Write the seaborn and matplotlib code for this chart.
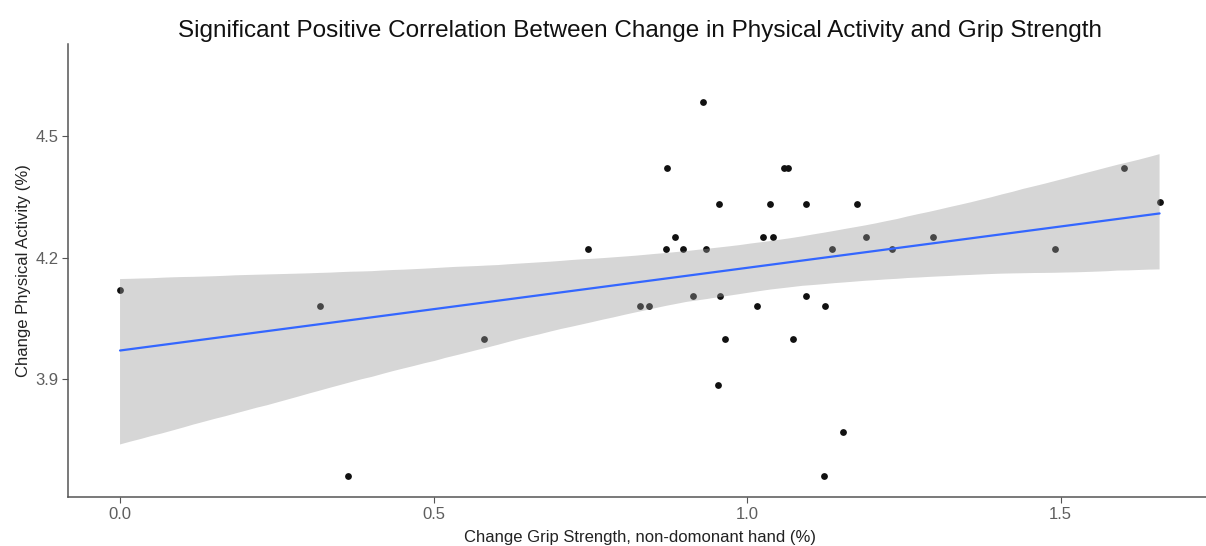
import matplotlib
matplotlib.use("Agg")
import matplotlib.pyplot as plt
import seaborn as sns
import numpy as np
import pandas as pd

# Data
grip_change = [0.000, 0.319, 0.363, 0.581, 0.747, 0.829, 0.843, 0.871, 0.872, 0.885,
               0.898, 0.914, 0.929, 0.935, 0.953, 0.956, 0.957, 0.965, 1.016, 1.025,
               1.036, 1.041, 1.059, 1.065, 1.074, 1.094, 1.094, 1.123, 1.125, 1.135,
               1.153, 1.175, 1.189, 1.231, 1.297, 1.491, 1.602, 1.658]
activity_change = [4.12, 4.08, 3.66, 4.00, 4.22, 4.08, 4.08, 4.22, 4.42, 4.25,
                   4.22, 4.106, 4.585, 4.22, 3.885, 4.332, 4.106, 4.00, 4.08, 4.25,
                   4.332, 4.25, 4.42, 4.42, 4.00, 4.332, 4.106, 3.66, 4.08, 4.22,
                   3.77, 4.332, 4.25, 4.22, 4.25, 4.22, 4.42, 4.336]
x_ticks = [0.0, 0.5, 1.0, 1.5]
x_tick_labels = ["0.0", "0.5", "1.0", "1.5"]
y_ticks = [3.9, 4.2, 4.5]
y_tick_labels = ["3.9", "4.2", "4.5"]

title = "Significant Positive Correlation Between Change in Physical Activity and Grip Strength"
x_label = "Change Grip Strength, non-domonant hand (%)"
y_label = "Change Physical Activity (%)"

df = pd.DataFrame({"grip": grip_change, "activity": activity_change})

sns.set_style("white")
plt.rcParams["font.family"] = ["Liberation Sans", "DejaVu Sans"]

W, H = 1206, 546
fig = plt.figure(figsize=(W / 100, H / 100), dpi=100)
left_px, right_px, top_px, bottom_px = 68, 1211, 44, 497
ax = fig.add_axes([left_px / W, 1 - bottom_px / H,
                   (right_px - left_px) / W, (bottom_px - top_px) / H])

sns.regplot(data=df, x="grip", y="activity", ax=ax, ci=95, n_boot=5000, seed=3,
            scatter_kws=dict(s=24, color="#111111", linewidths=0, alpha=1),
            line_kws=dict(color="#3366FF", linewidth=1.6))

# recolour the confidence ribbon to ggplot's grey
for coll in ax.collections[1:]:
    coll.set_facecolor("#999999")
    coll.set_alpha(0.4)
    coll.set_edgecolor("none")

ax.set_xlim(-0.083, 1.740)
ax.set_ylim(3.609, 4.727)
ax.set_xticks(x_ticks)
ax.set_xticklabels(x_tick_labels)
ax.set_yticks(y_ticks)
ax.set_yticklabels(y_tick_labels)

for side in ["top", "right"]:
    ax.spines[side].set_visible(False)
for side in ["left", "bottom"]:
    ax.spines[side].set_color("#555555")
    ax.spines[side].set_linewidth(1.1)

ax.tick_params(axis="both", which="major", length=4, width=0.8, color="#555555",
               labelsize=12, labelcolor="#5E5E5E", pad=3, direction="out",
               bottom=True, left=True)

ax.set_xlabel(x_label, fontsize=12, color="#222222", labelpad=6)
ax.set_ylabel(y_label, fontsize=12, color="#222222", labelpad=3)
ax.set_title(title, fontsize=17.5, color="#111111", pad=5)

ax.grid(False)
fig.savefig("out.png", dpi=100, facecolor="white")
